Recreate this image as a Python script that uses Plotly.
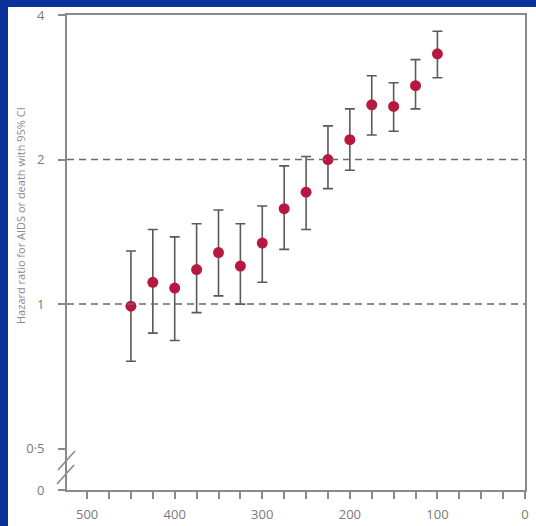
import plotly.graph_objects as go

# CD4 count category (cells per µL) and hazard ratio with 95% CI
cd4 = [450, 425, 400, 375, 350, 325, 300, 275, 250, 225, 200, 175, 150, 125, 100]
hr = [0.99, 1.11, 1.08, 1.18, 1.28, 1.20, 1.34, 1.58, 1.71, 2.00, 2.20, 2.60, 2.58, 2.85, 3.32]
ci_low = [0.76, 0.87, 0.84, 0.96, 1.04, 1.00, 1.11, 1.30, 1.43, 1.74, 1.90, 2.25, 2.29, 2.55, 2.96]
ci_high = [1.29, 1.43, 1.38, 1.47, 1.57, 1.47, 1.60, 1.94, 2.03, 2.35, 2.55, 2.99, 2.89, 3.23, 3.70]

x_ticks = [500, 400, 300, 200, 100, 0]
y_tickvals = [0.41, 0.5, 1, 2, 4]
y_ticktext = ["0", "0·5", "1", "2", "4"]
ref_lines = [1, 2]
y_title = "Hazard ratio for AIDS or death with 95% CI"

W, H = 536, 526
L, R, T, B = 67, 11, 15, 36
PW, PH = W - L - R, H - T - B

def px(xp):
    return (xp - L) / PW

def py(yp):
    return (H - B - yp) / PH

BLUE = "#0a3399"
GRAY = "#7a7a7a"
AXIS = "#8a8a8a"
RED = "#b8183f"

fig = go.Figure()
fig.add_trace(go.Scatter(
    x=cd4, y=hr, mode="markers",
    marker=dict(color=RED, size=11, line=dict(width=0)),
    error_y=dict(type="data", symmetric=False,
                 array=[h - m for h, m in zip(ci_high, hr)],
                 arrayminus=[m - l for m, l in zip(hr, ci_low)],
                 color="#5a5a5a", thickness=1.6, width=5),
    showlegend=False,
))

shapes = [
    dict(type="rect", xref="paper", yref="paper", layer="below",
         x0=px(8), x1=px(W + 5), y0=py(H + 5), y1=py(7),
         fillcolor="white", line=dict(width=0)),
]
for v in ref_lines:
    shapes.append(dict(type="line", xref="paper", yref="y", x0=0, x1=1, y0=v, y1=v,
                       line=dict(color="#6a6a6a", width=1.5, dash="7px,5px")))
# axis-break marks
for (xa, ya, xb, yb) in [(58, 470, 75, 451), (57, 484, 74, 465)]:
    shapes.append(dict(type="line", xref="paper", yref="paper",
                       x0=px(xa), y0=py(ya), x1=px(xb), y1=py(yb),
                       line=dict(color=AXIS, width=1.6)))

fig.update_layout(
    width=W, height=H, autosize=False,
    margin=dict(l=L, r=R, t=T, b=B, pad=0, autoexpand=False),
    paper_bgcolor=BLUE, plot_bgcolor="white",
    shapes=shapes,
    font=dict(family="Open Sans", color=GRAY, size=12),
    annotations=[dict(text=y_title, xref="paper", yref="paper",
                      x=px(21), y=py(216), textangle=-90, showarrow=False,
                      font=dict(size=11, color="#8a8a8a", family="Open Sans"),
                      xanchor="center", yanchor="middle")],
)
fig.update_xaxes(
    range=[523, 0], tickmode="array", tickvals=x_ticks, automargin=False,
    ticks="outside", ticklen=7, tickwidth=1.5, tickcolor=AXIS,
    minor=dict(dtick=25, tick0=0, ticks="outside", ticklen=7, tickwidth=1.5, tickcolor=AXIS),
    showline=True, linecolor=AXIS, linewidth=1.8, mirror=True,
    showgrid=False, zeroline=False,
    tickfont=dict(size=13, color=GRAY), ticklabelstandoff=4,
)
fig.update_yaxes(
    type="log", range=[-0.3872, 0.60206], automargin=False,
    tickmode="array", tickvals=y_tickvals, ticktext=y_ticktext,
    ticks="outside", ticklen=7, tickwidth=1.5, tickcolor=AXIS,
    showline=True, linecolor=AXIS, linewidth=1.8, mirror=True,
    showgrid=False, zeroline=False,
    tickfont=dict(size=13, color=GRAY), ticklabelstandoff=11,
)

fig.write_html("out.html", config={"displayModeBar": False},
               post_script="document.body.style.margin='0px';document.body.style.overflow='hidden';")
